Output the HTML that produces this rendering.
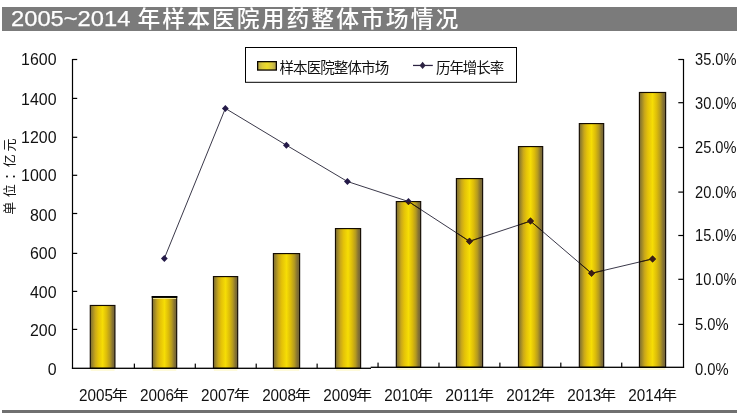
<!DOCTYPE html>
<html><head><meta charset="utf-8"><title>2005~2014 年样本医院用药整体市场情况</title>
<style>
html,body{margin:0;padding:0;background:#fff;}
body{width:748px;height:419px;overflow:hidden;font-family:"Liberation Sans","Noto Sans CJK SC",sans-serif;}
svg{display:block;will-change:transform;}
svg text{font-family:"Liberation Sans","Noto Sans CJK SC",sans-serif;}
</style></head><body>
<svg width="748" height="419" viewBox="0 0 748 419" role="img" aria-label="2005~2014 年样本医院用药整体市场情况">
<title>2005~2014 年样本医院用药整体市场情况</title>
<desc>单位：亿元 样本医院整体市场 历年增长率 2005年 2006年 2007年 2008年 2009年 2010年 2011年 2012年 2013年 2014年</desc>
<defs><linearGradient id="bg" x1="0" y1="0" x2="1" y2="0"><stop offset="0" stop-color="#7a6a32"/><stop offset="0.1" stop-color="#a08a28"/><stop offset="0.2" stop-color="#caa81a"/><stop offset="0.32" stop-color="#e4c208"/><stop offset="0.5" stop-color="#f6dd05"/><stop offset="0.66" stop-color="#dcbc0a"/><stop offset="0.8" stop-color="#b49a20"/><stop offset="0.9" stop-color="#887432"/><stop offset="1" stop-color="#6c6038"/></linearGradient><linearGradient id="bg2" x1="0" y1="0" x2="1" y2="0"><stop offset="0" stop-color="#b8a848"/><stop offset="0.25" stop-color="#dccb3a"/><stop offset="0.5" stop-color="#eedc28"/><stop offset="0.75" stop-color="#d8c840"/><stop offset="1" stop-color="#b0a050"/></linearGradient></defs>
<rect x="2" y="7" width="735" height="24" fill="#7b7b7b"/>
<rect x="2" y="410" width="735" height="3" fill="#707070"/>
<text x="11" y="26.2" font-size="22.4" fill="#fff" stroke="#fff" stroke-width="0.25" textLength="119.4" lengthAdjust="spacingAndGlyphs">2005~2014</text>
<text x="137.5" y="26.9" font-size="22.8" font-weight="500" fill="#fff" textLength="320.8" lengthAdjust="spacing">年样本医院用药整体市场情况</text>
<rect x="90.28" y="305.47" width="24.65" height="62.83" fill="url(#bg)" stroke="#140c02" stroke-width="1.15"/>
<rect x="152.32" y="296.57" width="24.36" height="71.73" fill="url(#bg)" stroke="#140c02" stroke-width="1.15"/>
<rect x="213.47" y="276.57" width="24.21" height="91.73" fill="url(#bg)" stroke="#140c02" stroke-width="1.15"/>
<rect x="273.41" y="253.57" width="26.21" height="114.73" fill="url(#bg)" stroke="#140c02" stroke-width="1.15"/>
<rect x="335.47" y="228.57" width="25.15" height="139.73" fill="url(#bg)" stroke="#140c02" stroke-width="1.15"/>
<rect x="396.32" y="201.57" width="24.36" height="165.73" fill="url(#bg)" stroke="#140c02" stroke-width="1.15"/>
<rect x="456.41" y="178.57" width="26.21" height="188.73" fill="url(#bg)" stroke="#140c02" stroke-width="1.15"/>
<rect x="518.48" y="146.57" width="24.21" height="220.73" fill="url(#bg)" stroke="#140c02" stroke-width="1.15"/>
<rect x="579.33" y="123.58" width="24.36" height="243.73" fill="url(#bg)" stroke="#140c02" stroke-width="1.15"/>
<rect x="639.42" y="92.48" width="26.21" height="274.82" fill="url(#bg)" stroke="#140c02" stroke-width="1.15"/>
<rect x="90.70" y="369.20" width="23.80" height="1.6" fill="#fbf3a8" opacity="0.55"/>
<rect x="152.75" y="369.20" width="23.51" height="1.6" fill="#fbf3a8" opacity="0.55"/>
<rect x="213.90" y="369.20" width="23.36" height="1.6" fill="#fbf3a8" opacity="0.55"/>
<rect x="273.84" y="369.20" width="25.36" height="1.6" fill="#fbf3a8" opacity="0.55"/>
<rect x="335.90" y="369.20" width="24.30" height="1.6" fill="#fbf3a8" opacity="0.55"/>
<rect x="396.75" y="368.20" width="23.51" height="1.6" fill="#fbf3a8" opacity="0.55"/>
<rect x="456.84" y="368.20" width="25.36" height="1.6" fill="#fbf3a8" opacity="0.55"/>
<rect x="518.90" y="368.20" width="23.36" height="1.6" fill="#fbf3a8" opacity="0.55"/>
<rect x="579.75" y="368.20" width="23.51" height="1.6" fill="#fbf3a8" opacity="0.55"/>
<rect x="639.84" y="368.20" width="25.36" height="1.6" fill="#fbf3a8" opacity="0.55"/>
<rect x="151.75" y="296.00" width="25.51" height="1.90" fill="#000"/>
<rect x="153.05" y="298.00" width="23.11" height="0.90" fill="#f3ea9a"/>
<g fill="#000">
<rect x="71.90" y="59.00" width="1.20" height="309.90"/>
<rect x="682.90" y="59.00" width="1.20" height="308.90"/>
<rect x="71.90" y="367.65" width="299.10" height="1.30"/>
<rect x="370.70" y="366.65" width="313.40" height="1.30"/>
<rect x="72.50" y="328.80" width="4.70" height="1.20"/>
<rect x="72.50" y="290.80" width="4.70" height="1.20"/>
<rect x="72.50" y="252.80" width="4.70" height="1.20"/>
<rect x="72.50" y="212.90" width="4.70" height="1.20"/>
<rect x="72.50" y="174.70" width="4.70" height="1.20"/>
<rect x="72.50" y="136.70" width="4.70" height="1.20"/>
<rect x="72.50" y="97.80" width="4.70" height="1.20"/>
<rect x="72.50" y="58.90" width="4.70" height="1.20"/>
<rect x="678.30" y="323.80" width="5.20" height="1.20"/>
<rect x="678.30" y="278.70" width="5.20" height="1.20"/>
<rect x="678.30" y="234.90" width="5.20" height="1.20"/>
<rect x="678.30" y="191.50" width="5.20" height="1.20"/>
<rect x="678.30" y="146.90" width="5.20" height="1.20"/>
<rect x="678.30" y="102.10" width="5.20" height="1.20"/>
<rect x="678.30" y="58.90" width="5.20" height="1.20"/>
<rect x="133.77" y="363.60" width="1.20" height="4.70"/>
<rect x="194.69" y="363.60" width="1.20" height="4.70"/>
<rect x="255.61" y="363.60" width="1.20" height="4.70"/>
<rect x="316.53" y="363.60" width="1.20" height="4.70"/>
<rect x="377.45" y="362.60" width="1.20" height="4.70"/>
<rect x="438.37" y="362.60" width="1.20" height="4.70"/>
<rect x="499.29" y="362.60" width="1.20" height="4.70"/>
<rect x="560.21" y="362.60" width="1.20" height="4.70"/>
<rect x="621.13" y="362.60" width="1.20" height="4.70"/>
</g>
<polyline points="164.33,258.40 225.36,108.40 286.39,145.20 347.42,181.50 408.45,201.50 469.48,241.30 530.51,221.10 591.54,273.30 652.57,258.90" fill="none" stroke="#07051a" stroke-width="0.8"/>
<path d="M160.93 258.40L164.33 254.90L167.73 258.40L164.33 261.90Z" fill="#241a48"/>
<path d="M221.96 108.40L225.36 104.90L228.76 108.40L225.36 111.90Z" fill="#241a48"/>
<path d="M282.99 145.20L286.39 141.70L289.79 145.20L286.39 148.70Z" fill="#241a48"/>
<path d="M344.02 181.50L347.42 178.00L350.82 181.50L347.42 185.00Z" fill="#241a48"/>
<path d="M405.05 201.50L408.45 198.00L411.85 201.50L408.45 205.00Z" fill="#241a48"/>
<path d="M466.08 241.30L469.48 237.80L472.88 241.30L469.48 244.80Z" fill="#241a48"/>
<path d="M527.11 221.10L530.51 217.60L533.91 221.10L530.51 224.60Z" fill="#241a48"/>
<path d="M588.14 273.30L591.54 269.80L594.94 273.30L591.54 276.80Z" fill="#241a48"/>
<path d="M649.17 258.90L652.57 255.40L655.97 258.90L652.57 262.40Z" fill="#241a48"/>
<clipPath id="barclip"><rect x="90.70" y="305.90" width="23.80" height="62.40"/><rect x="152.75" y="297.00" width="23.51" height="71.30"/><rect x="213.90" y="277.00" width="23.36" height="91.30"/><rect x="273.84" y="254.00" width="25.36" height="114.30"/><rect x="335.90" y="229.00" width="24.30" height="139.30"/><rect x="396.75" y="202.00" width="23.51" height="166.30"/><rect x="456.84" y="179.00" width="25.36" height="189.30"/><rect x="518.90" y="147.00" width="23.36" height="221.30"/><rect x="579.75" y="124.00" width="23.51" height="244.30"/><rect x="639.84" y="92.90" width="25.36" height="275.40"/></clipPath>
<g clip-path="url(#barclip)">
<polyline points="164.33,258.40 225.36,108.40 286.39,145.20 347.42,181.50 408.45,201.50 469.48,241.30 530.51,221.10 591.54,273.30 652.57,258.90" fill="none" stroke="#2b1a0a" stroke-width="0.8"/>
<path d="M160.93 258.40L164.33 254.90L167.73 258.40L164.33 261.90Z" fill="#3b1d14"/>
<path d="M221.96 108.40L225.36 104.90L228.76 108.40L225.36 111.90Z" fill="#3b1d14"/>
<path d="M282.99 145.20L286.39 141.70L289.79 145.20L286.39 148.70Z" fill="#3b1d14"/>
<path d="M344.02 181.50L347.42 178.00L350.82 181.50L347.42 185.00Z" fill="#3b1d14"/>
<path d="M405.05 201.50L408.45 198.00L411.85 201.50L408.45 205.00Z" fill="#3b1d14"/>
<path d="M466.08 241.30L469.48 237.80L472.88 241.30L469.48 244.80Z" fill="#3b1d14"/>
<path d="M527.11 221.10L530.51 217.60L533.91 221.10L530.51 224.60Z" fill="#3b1d14"/>
<path d="M588.14 273.30L591.54 269.80L594.94 273.30L591.54 276.80Z" fill="#3b1d14"/>
<path d="M649.17 258.90L652.57 255.40L655.97 258.90L652.57 262.40Z" fill="#3b1d14"/>
</g>
<text transform="translate(56.5 374.60) scale(1.02 1)" font-size="15.6" text-anchor="end" fill="#111">0</text>
<text transform="translate(56.5 336.00) scale(1.02 1)" font-size="15.6" text-anchor="end" fill="#111">200</text>
<text transform="translate(56.5 298.00) scale(1.02 1)" font-size="15.6" text-anchor="end" fill="#111">400</text>
<text transform="translate(56.5 258.70) scale(1.02 1)" font-size="15.6" text-anchor="end" fill="#111">600</text>
<text transform="translate(56.5 220.50) scale(1.02 1)" font-size="15.6" text-anchor="end" fill="#111">800</text>
<text transform="translate(56.5 181.00) scale(1.02 1)" font-size="15.6" text-anchor="end" fill="#111">1000</text>
<text transform="translate(56.5 142.70) scale(1.02 1)" font-size="15.6" text-anchor="end" fill="#111">1200</text>
<text transform="translate(56.5 104.80) scale(1.02 1)" font-size="15.6" text-anchor="end" fill="#111">1400</text>
<text transform="translate(56.5 65.10) scale(1.02 1)" font-size="15.6" text-anchor="end" fill="#111">1600</text>
<text x="695" y="374.50" font-size="15.6" fill="#111" textLength="33.6" lengthAdjust="spacingAndGlyphs">0.0%</text>
<text x="695" y="329.90" font-size="15.6" fill="#111" textLength="33.6" lengthAdjust="spacingAndGlyphs">5.0%</text>
<text x="695" y="285.30" font-size="15.6" fill="#111" textLength="41.5" lengthAdjust="spacingAndGlyphs">10.0%</text>
<text x="695" y="241.40" font-size="15.6" fill="#111" textLength="41.5" lengthAdjust="spacingAndGlyphs">15.0%</text>
<text x="695" y="197.50" font-size="15.6" fill="#111" textLength="41.5" lengthAdjust="spacingAndGlyphs">20.0%</text>
<text x="695" y="153.40" font-size="15.6" fill="#111" textLength="41.5" lengthAdjust="spacingAndGlyphs">25.0%</text>
<text x="695" y="109.40" font-size="15.6" fill="#111" textLength="41.5" lengthAdjust="spacingAndGlyphs">30.0%</text>
<text x="695" y="64.90" font-size="15.6" fill="#111" textLength="41.5" lengthAdjust="spacingAndGlyphs">35.0%</text>
<text x="79.05" y="400.5" font-size="15.6" fill="#111" textLength="34" lengthAdjust="spacingAndGlyphs">2005</text>
<text transform="translate(111.76 399.50) scale(1.2 1)" font-size="13.4" fill="#111">年</text>
<text x="140.08" y="400.5" font-size="15.6" fill="#111" textLength="34" lengthAdjust="spacingAndGlyphs">2006</text>
<text transform="translate(172.79 399.50) scale(1.2 1)" font-size="13.4" fill="#111">年</text>
<text x="201.11" y="400.5" font-size="15.6" fill="#111" textLength="34" lengthAdjust="spacingAndGlyphs">2007</text>
<text transform="translate(233.82 399.50) scale(1.2 1)" font-size="13.4" fill="#111">年</text>
<text x="262.14" y="400.5" font-size="15.6" fill="#111" textLength="34" lengthAdjust="spacingAndGlyphs">2008</text>
<text transform="translate(294.85 399.50) scale(1.2 1)" font-size="13.4" fill="#111">年</text>
<text x="323.17" y="400.5" font-size="15.6" fill="#111" textLength="34" lengthAdjust="spacingAndGlyphs">2009</text>
<text transform="translate(355.88 399.50) scale(1.2 1)" font-size="13.4" fill="#111">年</text>
<text x="384.20" y="400.5" font-size="15.6" fill="#111" textLength="34" lengthAdjust="spacingAndGlyphs">2010</text>
<text transform="translate(416.91 399.50) scale(1.2 1)" font-size="13.4" fill="#111">年</text>
<text x="445.23" y="400.5" font-size="15.6" fill="#111" textLength="34" lengthAdjust="spacingAndGlyphs">2011</text>
<text transform="translate(477.94 399.50) scale(1.2 1)" font-size="13.4" fill="#111">年</text>
<text x="506.26" y="400.5" font-size="15.6" fill="#111" textLength="34" lengthAdjust="spacingAndGlyphs">2012</text>
<text transform="translate(538.97 399.50) scale(1.2 1)" font-size="13.4" fill="#111">年</text>
<text x="567.29" y="400.5" font-size="15.6" fill="#111" textLength="34" lengthAdjust="spacingAndGlyphs">2013</text>
<text transform="translate(600.00 399.50) scale(1.2 1)" font-size="13.4" fill="#111">年</text>
<text x="628.32" y="400.5" font-size="15.6" fill="#111" textLength="34" lengthAdjust="spacingAndGlyphs">2014</text>
<text transform="translate(661.03 399.50) scale(1.2 1)" font-size="13.4" fill="#111">年</text>
<rect x="245.5" y="47.5" width="271" height="34.8" fill="#fff" stroke="#000" stroke-width="1"/>
<rect x="257.65" y="61.65" width="18.7" height="8.4" fill="url(#bg2)" stroke="#0a0500" stroke-width="1.3"/>
<text x="279.45" y="73.1" font-size="14.5" fill="#111" textLength="109.7" lengthAdjust="spacing">样本医院整体市场</text>
<rect x="413" y="64.825" width="19.8" height="1.25" fill="#2c2342"/>
<path d="M419.60 65.45L422.60 61.85L425.60 65.45L422.60 69.05Z" fill="#2c2342"/>
<text x="436.05" y="73.1" font-size="14.5" fill="#111" textLength="68.1" lengthAdjust="spacing">历年增长率</text>
<text transform="translate(13.7 214.8) rotate(-90)" x="0 17.65 35.1 47.56 63.22" y="0" font-size="13" fill="#111">单位：亿元</text>
</svg>
</body></html>
